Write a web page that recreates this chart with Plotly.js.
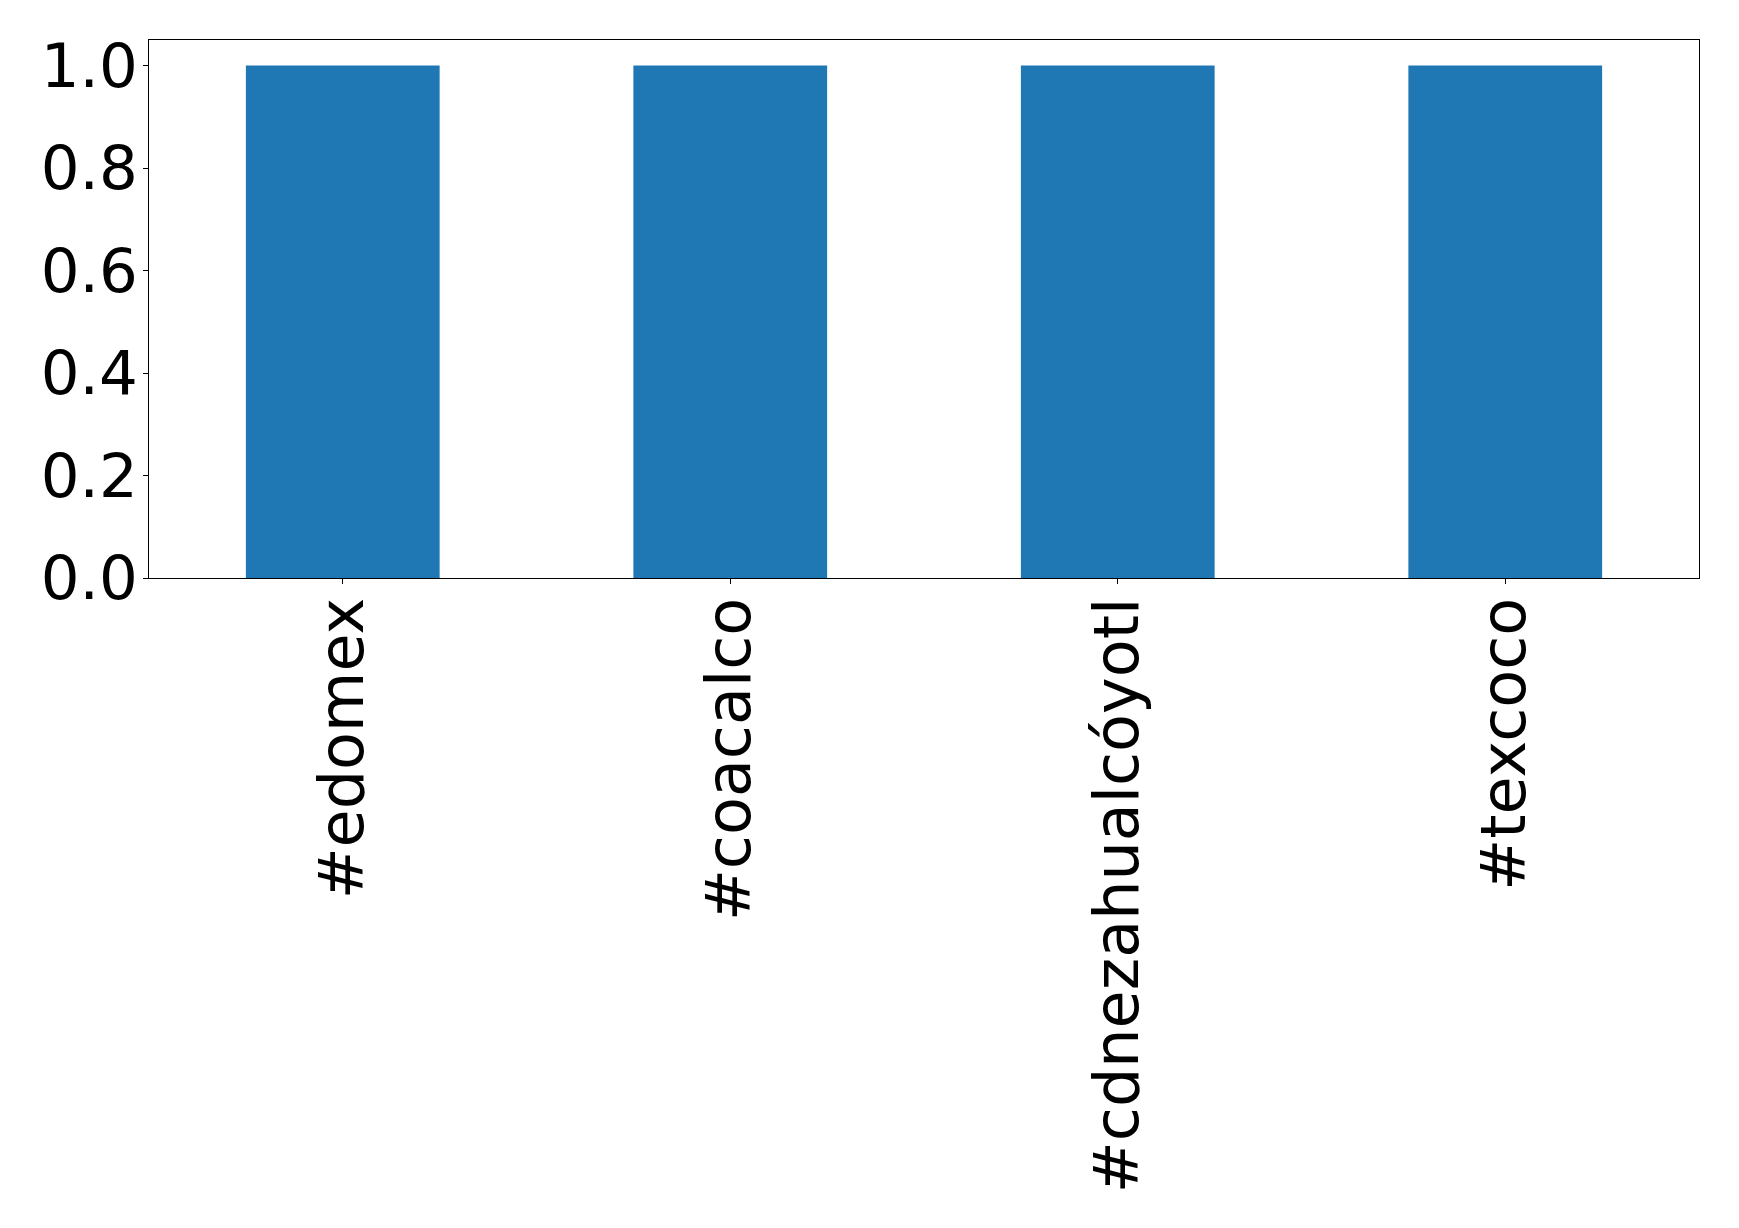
<!DOCTYPE html>
<html>
<head>
<meta charset="utf-8">
<script src="https://cdn.plot.ly/plotly-3.0.1.min.js"></script>
<style>html,body{margin:0;padding:0;background:#fff;}#chart{width:1739px;height:1228px;}</style>
</head>
<body>
<div id="chart"></div>
<script>
const categories = ["#edomex", "#coacalco", "#cdnezahualcóyotl", "#texcoco"];
const values = [1.0, 1.0, 1.0, 1.0];
const yTickVals = [0.0, 0.2, 0.4, 0.6, 0.8, 1.0];
const yTickText = ["0.0", "0.2", "0.4", "0.6", "0.8", "1.0"];

const trace = {
  type: "bar",
  x: categories,
  y: values,
  marker: {color: "#1f77b4", line: {width: 0}},
  hoverinfo: "x+y"
};

const layout = {
  width: 1739,
  height: 1228,
  margin: {l: 149, r: 40, t: 40, b: 650, pad: 0},
  paper_bgcolor: "#ffffff",
  plot_bgcolor: "#ffffff",
  bargap: 0.5,
  showlegend: false,
  font: {family: "DejaVu Sans", color: "#000000", size: 61},
  xaxis: {
    type: "category",
    range: [-0.5, 3.5],
    tickangle: -90,
    ticks: "outside",
    ticklen: 5,
    tickwidth: 1,
    tickcolor: "#000",
    ticklabelstandoff: -11,
    showline: true,
    mirror: true,
    linecolor: "#000",
    linewidth: 1,
    showgrid: false,
    zeroline: false,
    tickfont: {family: "DejaVu Sans", size: 62, color: "#000"}
  },
  yaxis: {
    range: [0, 1.05],
    tickvals: yTickVals,
    ticktext: yTickText,
    ticks: "outside",
    ticklen: 5,
    tickwidth: 1,
    tickcolor: "#000",
    ticklabelstandoff: -7,
    showline: true,
    mirror: true,
    linecolor: "#000",
    linewidth: 1,
    showgrid: false,
    zeroline: false,
    tickfont: {family: "DejaVu Sans", size: 61, color: "#000"}
  }
};

Plotly.newPlot("chart", [trace], layout, {displayModeBar: false, staticPlot: true});
</script>
</body>
</html>
